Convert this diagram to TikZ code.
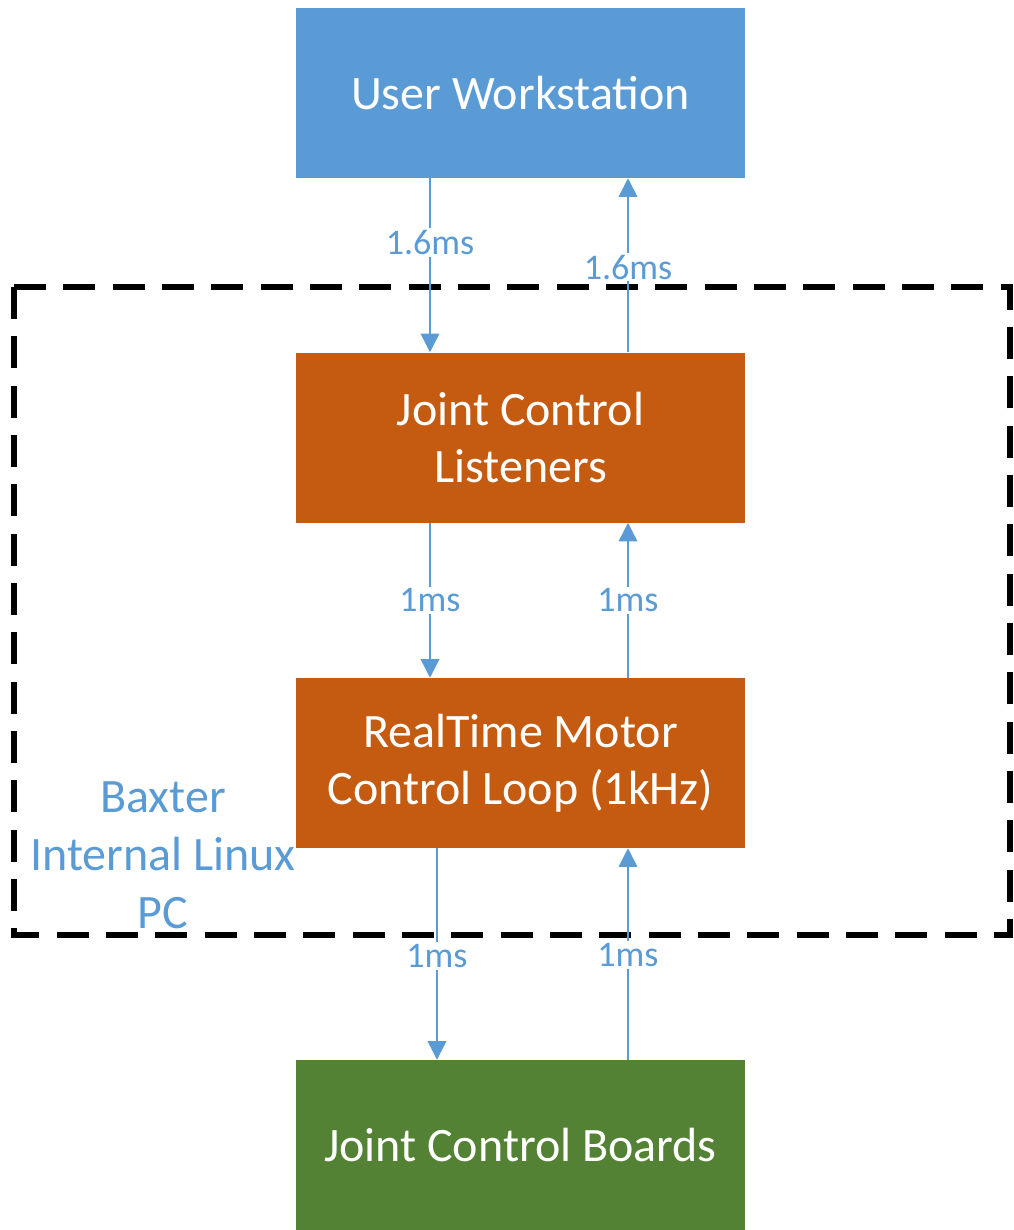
\documentclass[tikz,border=0pt]{standalone}
\usepackage{fontspec}
\setmainfont{Carlito}
\usetikzlibrary{arrows.meta}
\definecolor{wsblue}{HTML}{5B9BD5}
\definecolor{pcorange}{HTML}{C55A11}
\definecolor{boardgreen}{HTML}{548235}
\begin{document}
\begin{tikzpicture}[x=0.75pt,y=-0.75pt,
		block/.style={minimum width=336.75pt,minimum height=127.5pt,inner sep=0pt,
			text=white,align=center,font=\fontsize{36}{43}\selectfont},
		link/.style={wsblue,line width=1.1pt,-{Triangle[length=14pt,width=14pt]}},
		lbl/.style={fill=white,text=wsblue,inner sep=1.5pt,font=\fontsize{27}{32}\selectfont}]
		\useasboundingbox (0,0) rectangle (1013,1230);
		\draw[black,line width=4.5pt,dash pattern=on 24pt off 13pt] (14,287) rectangle (1010,935);
		\node[text=wsblue,align=center,font=\fontsize{36}{43.5}\selectfont] (pc) at (163,855) {Baxter\\Internal Linux\\PC};
		\node[block,fill=wsblue] (ws) at (520.5,93) {User Workstation};
		\node[block,fill=pcorange] (jcl) at (520.5,437.5) {Joint Control\\Listeners};
		\node[block,fill=pcorange] (rt) at (520.5,763) {RealTime Motor\\Control Loop (1kHz)};
		\node[block,fill=boardgreen] (jcb) at (520.5,1145) {Joint Control Boards};
		\draw[link] (ws.south -| 430,0) -- node[lbl,pos=.37] {1.6ms} (jcl.north -| 430,0);
		\draw[link] (jcl.north -| 628,0) -- node[lbl,pos=.49] {1.6ms} (ws.south -| 628,0);
		\draw[link] (jcl.south -| 430,0) -- node[lbl] {1ms} (rt.north -| 430,0);
		\draw[link] (rt.north -| 628,0) -- node[lbl] {1ms} (jcl.south -| 628,0);
		\draw[link] (rt.south -| 437,0) -- node[lbl,pos=.51] {1ms} (jcb.north -| 437,0);
		\draw[link] (jcb.north -| 628,0) -- node[lbl,pos=.495] {1ms} (rt.south -| 628,0);
	\end{tikzpicture}
\end{document}
